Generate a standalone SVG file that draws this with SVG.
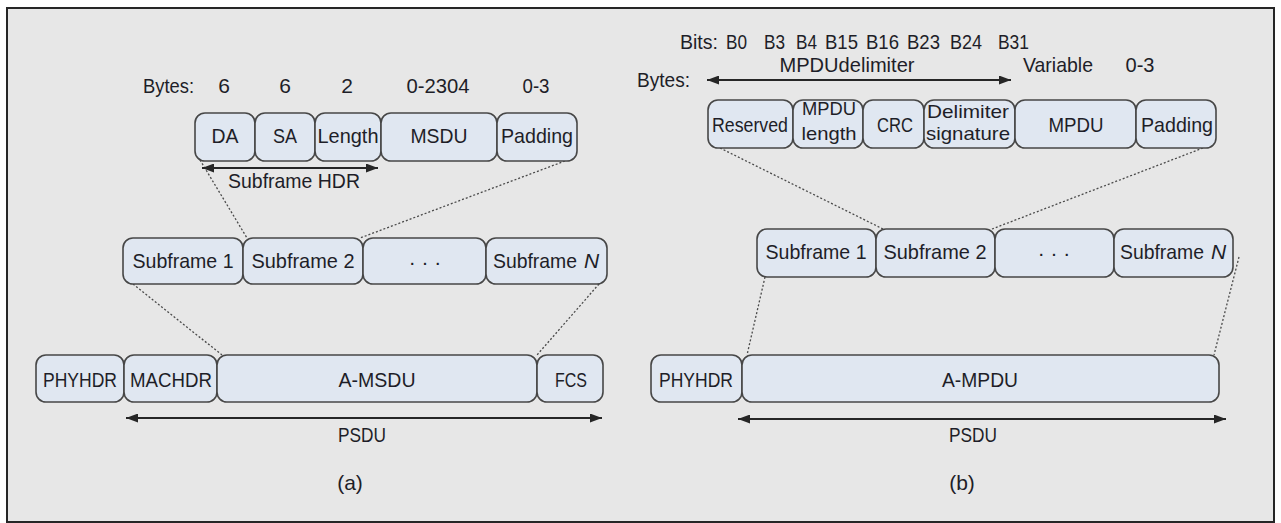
<svg xmlns="http://www.w3.org/2000/svg" width="1281" height="523" viewBox="0 0 1281 523">
<defs>
<style>
.t{font-family:"Liberation Sans",Arial,sans-serif;font-size:21px;fill:#1e1e28;text-anchor:middle}
.s{font-size:19px}
.l{text-anchor:start}
.i{font-style:italic}
.b{fill:#e0e7f1;stroke:#474747;stroke-width:1.6}
.d{fill:none;stroke:#4a4a4a;stroke-width:1.3;stroke-dasharray:2 2}
.a{fill:none;stroke:#262626;stroke-width:2;marker-start:url(#ah);marker-end:url(#ah)}
</style>
<marker id="ah" viewBox="0 0 12 9" refX="12" refY="4.5" markerWidth="12" markerHeight="9" markerUnits="userSpaceOnUse" orient="auto-start-reverse">
<path d="M0,0 L12,4.5 L0,9 z" fill="#262626"/>
</marker>
</defs>
<rect x="0" y="0" width="1281" height="523" fill="#ffffff"/>
<rect x="7" y="8" width="1267" height="514" fill="#e7e7e7" stroke="#262626" stroke-width="2"/>

<g id="connectors">
<line class="d" x1="200" y1="160" x2="247" y2="238"/>
<line class="d" x1="565" y1="161" x2="360" y2="238"/>
<line class="d" x1="133" y1="284" x2="222" y2="355"/>
<line class="d" x1="599" y1="284" x2="537" y2="355"/>
<line class="d" x1="720" y1="148" x2="883" y2="229"/>
<line class="d" x1="1203" y1="148" x2="992" y2="229"/>
<line class="d" x1="765" y1="277" x2="747" y2="355"/>
<line class="d" x1="1239" y1="257" x2="1214" y2="355"/>
<line class="a" x1="202" y1="168" x2="378" y2="168"/>
<line class="a" x1="126" y1="418" x2="602" y2="418"/>
<line class="a" x1="707" y1="80" x2="1011" y2="80"/>
<line class="a" x1="738" y1="419" x2="1226" y2="419"/>
</g>

<g id="labels-a">
<text class="t" x="168.5" y="93" textLength="51" lengthAdjust="spacingAndGlyphs">Bytes:</text>
<text class="t" x="224" y="93">6</text>
<text class="t" x="285" y="93">6</text>
<text class="t" x="347" y="93">2</text>
<text class="t" x="438" y="93" textLength="63" lengthAdjust="spacingAndGlyphs">0-2304</text>
<text class="t" x="536" y="93" textLength="27" lengthAdjust="spacingAndGlyphs">0-3</text>
<text class="t" x="294" y="188" textLength="132" lengthAdjust="spacingAndGlyphs">Subframe HDR</text>
<text class="t" x="362" y="442" textLength="48" lengthAdjust="spacingAndGlyphs">PSDU</text>
<text class="t" x="350" y="490">(a)</text>
</g>

<g id="a-DA"><rect class="b" x="195" y="113" width="60" height="48" rx="10"/><text class="t" x="225" y="143" textLength="27" lengthAdjust="spacingAndGlyphs">DA</text></g>
<g id="a-SA"><rect class="b" x="255" y="113" width="60" height="48" rx="10"/><text class="t" x="285" y="143" textLength="24" lengthAdjust="spacingAndGlyphs">SA</text></g>
<g id="a-Length"><rect class="b" x="315" y="113" width="66" height="48" rx="10"/><text class="t" x="348" y="143" textLength="61" lengthAdjust="spacingAndGlyphs">Length</text></g>
<g id="a-MSDU"><rect class="b" x="381" y="113" width="116" height="48" rx="10"/><text class="t" x="439" y="143" textLength="57" lengthAdjust="spacingAndGlyphs">MSDU</text></g>
<g id="a-Padding"><rect class="b" x="497" y="113" width="80" height="48" rx="10"/><text class="t" x="537" y="143" textLength="72" lengthAdjust="spacingAndGlyphs">Padding</text></g>

<g id="a-Sub1"><rect class="b" x="123" y="238" width="120" height="46" rx="10"/><text class="t" x="183" y="268" textLength="101" lengthAdjust="spacingAndGlyphs">Subframe 1</text></g>
<g id="a-Sub2"><rect class="b" x="243" y="238" width="120" height="46" rx="10"/><text class="t" x="303" y="268" textLength="103" lengthAdjust="spacingAndGlyphs">Subframe 2</text></g>
<g id="a-SubDots"><rect class="b" x="363" y="238" width="123" height="46" rx="10"/><text class="t" x="425" y="269">·  ·  ·</text></g>
<g id="a-SubN"><rect class="b" x="486" y="238" width="121" height="46" rx="10"/><text class="t l" x="493" y="268" textLength="84" lengthAdjust="spacingAndGlyphs">Subframe</text><text class="t l i" x="584" y="268">N</text></g>

<g id="a-PHYHDR"><rect class="b" x="36" y="355" width="88" height="47" rx="10"/><text class="t" x="80" y="387" textLength="74" lengthAdjust="spacingAndGlyphs">PHYHDR</text></g>
<g id="a-MACHDR"><rect class="b" x="124" y="355" width="93" height="47" rx="10"/><text class="t" x="171" y="387" textLength="82" lengthAdjust="spacingAndGlyphs">MACHDR</text></g>
<g id="a-AMSDU"><rect class="b" x="217" y="355" width="320" height="47" rx="10"/><text class="t" x="377" y="387" textLength="77" lengthAdjust="spacingAndGlyphs">A-MSDU</text></g>
<g id="a-FCS"><rect class="b" x="537" y="355" width="66" height="47" rx="10"/><text class="t" x="571" y="387" textLength="32" lengthAdjust="spacingAndGlyphs">FCS</text></g>

<g id="labels-b">
<text class="t l" y="49"><tspan x="680" textLength="38" lengthAdjust="spacingAndGlyphs">Bits:</tspan><tspan x="726" textLength="21" lengthAdjust="spacingAndGlyphs">B0</tspan><tspan x="764" textLength="21" lengthAdjust="spacingAndGlyphs">B3</tspan><tspan x="796" textLength="21" lengthAdjust="spacingAndGlyphs">B4</tspan><tspan x="825" textLength="33" lengthAdjust="spacingAndGlyphs">B15</tspan><tspan x="866" textLength="33" lengthAdjust="spacingAndGlyphs">B16</tspan><tspan x="907" textLength="33" lengthAdjust="spacingAndGlyphs">B23</tspan><tspan x="950" textLength="32" lengthAdjust="spacingAndGlyphs">B24</tspan><tspan x="998" textLength="31" lengthAdjust="spacingAndGlyphs">B31</tspan></text>
<text class="t" x="847" y="72" textLength="135" lengthAdjust="spacingAndGlyphs">MPDUdelimiter</text>
<text class="t" x="1058" y="72" textLength="70" lengthAdjust="spacingAndGlyphs">Variable</text>
<text class="t" x="1140" y="72" textLength="29" lengthAdjust="spacingAndGlyphs">0-3</text>
<text class="t l" x="637" y="87" textLength="53" lengthAdjust="spacingAndGlyphs">Bytes:</text>
<text class="t" x="973" y="442" textLength="48" lengthAdjust="spacingAndGlyphs">PSDU</text>
<text class="t" x="962" y="490">(b)</text>
</g>

<g id="b-Reserved"><rect class="b" x="708" y="100" width="85" height="48" rx="10"/><text class="t" x="750" y="132" textLength="76" lengthAdjust="spacingAndGlyphs">Reserved</text></g>
<g id="b-MPDUlength"><rect class="b" x="793" y="100" width="70" height="48" rx="10"/><text class="t s" x="829" y="115" textLength="54" lengthAdjust="spacingAndGlyphs">MPDU</text><text class="t s" x="829" y="140" textLength="55" lengthAdjust="spacingAndGlyphs">length</text></g>
<g id="b-CRC"><rect class="b" x="863" y="100" width="61" height="48" rx="10"/><text class="t" x="895" y="132" textLength="36" lengthAdjust="spacingAndGlyphs">CRC</text></g>
<g id="b-DelimSig"><rect class="b" x="924" y="100" width="91" height="48" rx="10"/><text class="t s" x="968" y="118" textLength="82" lengthAdjust="spacingAndGlyphs">Delimiter</text><text class="t s" x="968" y="140" textLength="84" lengthAdjust="spacingAndGlyphs">signature</text></g>
<g id="b-MPDU"><rect class="b" x="1015" y="100" width="121" height="48" rx="10"/><text class="t" x="1076" y="132" textLength="55" lengthAdjust="spacingAndGlyphs">MPDU</text></g>
<g id="b-Padding"><rect class="b" x="1136" y="100" width="80" height="48" rx="10"/><text class="t" x="1177" y="132" textLength="72" lengthAdjust="spacingAndGlyphs">Padding</text></g>

<g id="b-Sub1"><rect class="b" x="757" y="229" width="119" height="48" rx="10"/><text class="t" x="816" y="259" textLength="101" lengthAdjust="spacingAndGlyphs">Subframe 1</text></g>
<g id="b-Sub2"><rect class="b" x="876" y="229" width="119" height="48" rx="10"/><text class="t" x="935" y="259" textLength="103" lengthAdjust="spacingAndGlyphs">Subframe 2</text></g>
<g id="b-SubDots"><rect class="b" x="995" y="229" width="119" height="48" rx="10"/><text class="t" x="1054" y="260">·  ·  ·</text></g>
<g id="b-SubN"><rect class="b" x="1114" y="229" width="119" height="48" rx="10"/><text class="t l" x="1120" y="259" textLength="84" lengthAdjust="spacingAndGlyphs">Subframe</text><text class="t l i" x="1211" y="259">N</text></g>

<g id="b-PHYHDR"><rect class="b" x="651" y="355" width="91" height="47" rx="10"/><text class="t" x="696" y="387" textLength="74" lengthAdjust="spacingAndGlyphs">PHYHDR</text></g>
<g id="b-AMPDU"><rect class="b" x="742" y="355" width="477" height="47" rx="10"/><text class="t" x="980" y="387" textLength="76" lengthAdjust="spacingAndGlyphs">A-MPDU</text></g>
</svg>
